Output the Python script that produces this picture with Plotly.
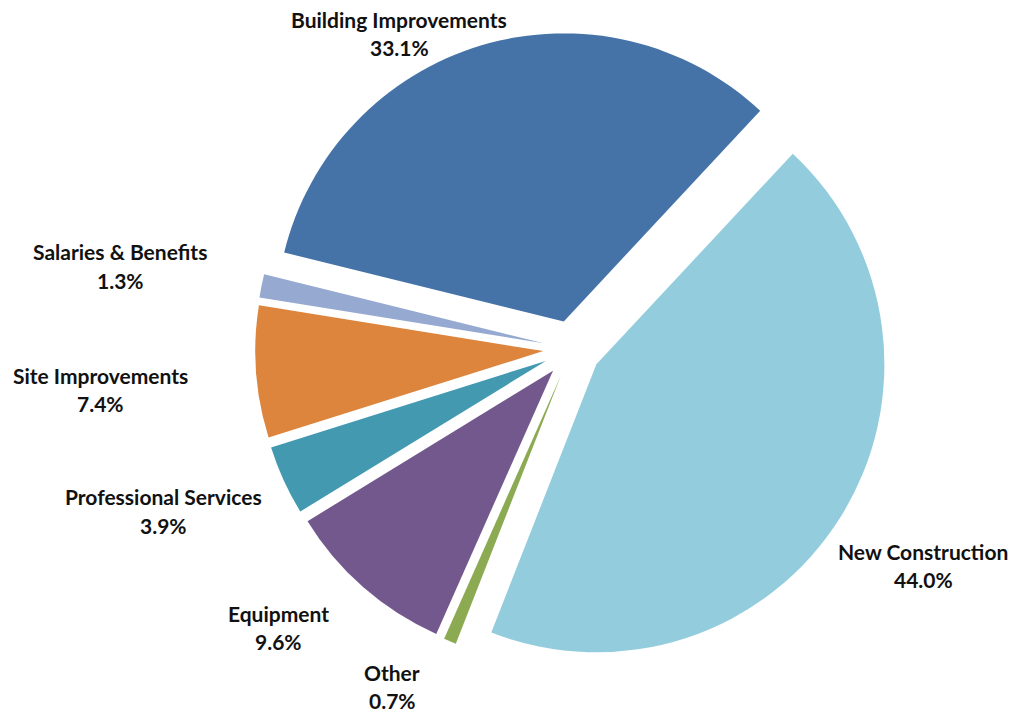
import plotly.graph_objects as go

# Capital spending breakdown, share of total (%)
categories = [
    "New Construction",
    "Other",
    "Equipment",
    "Professional Services",
    "Site Improvements",
    "Salaries & Benefits",
    "Building Improvements",
]
shares = [44.0, 0.7, 9.6, 3.9, 7.4, 1.3, 33.1]
colors = ["#93CDDD", "#8BAA52", "#72588D", "#4299B0", "#DD843D", "#95A9D1", "#4573A7"]

# Label placement in pixels (center of name line, center of value line)
W, H = 1015, 712
label_pos = {
    "New Construction": (923, 551, 579),
    "Other": (392, 672, 700),
    "Equipment": (278, 613, 641),
    "Professional Services": (163, 497, 525),
    "Site Improvements": (100, 375, 403),
    "Salaries & Benefits": (120, 252, 280),
    "Building Improvements": (399, 19, 47),
}

fig = go.Figure(
    go.Pie(
        labels=categories,
        values=shares,
        sort=False,
        direction="clockwise",
        rotation=43,
        pull=[0.1] * len(categories),
        marker=dict(colors=colors, line=dict(width=0)),
        textinfo="none",
        hoverinfo="label+percent",
        domain=dict(x=[0.2384, 0.8887], y=[0.0649, 0.9548]),
        showlegend=False,
    )
)

font = dict(family="Lato", size=21, color="#111111", weight="bold")
annotations = []
for name, val in zip(categories, shares):
    cx, y1, y2 = label_pos[name]
    for txt, yy in ((name, y1), (f"{val:.1f}%", y2)):
        annotations.append(
            dict(
                x=cx / W, y=1 - yy / H, xref="paper", yref="paper",
                text=txt, showarrow=False, font=font,
                xanchor="center", yanchor="middle",
            )
        )

fig.update_layout(
    width=W, height=H,
    margin=dict(l=0, r=0, t=0, b=0),
    paper_bgcolor="white",
    plot_bgcolor="white",
    annotations=annotations,
)

fig.write_html("out.html")
